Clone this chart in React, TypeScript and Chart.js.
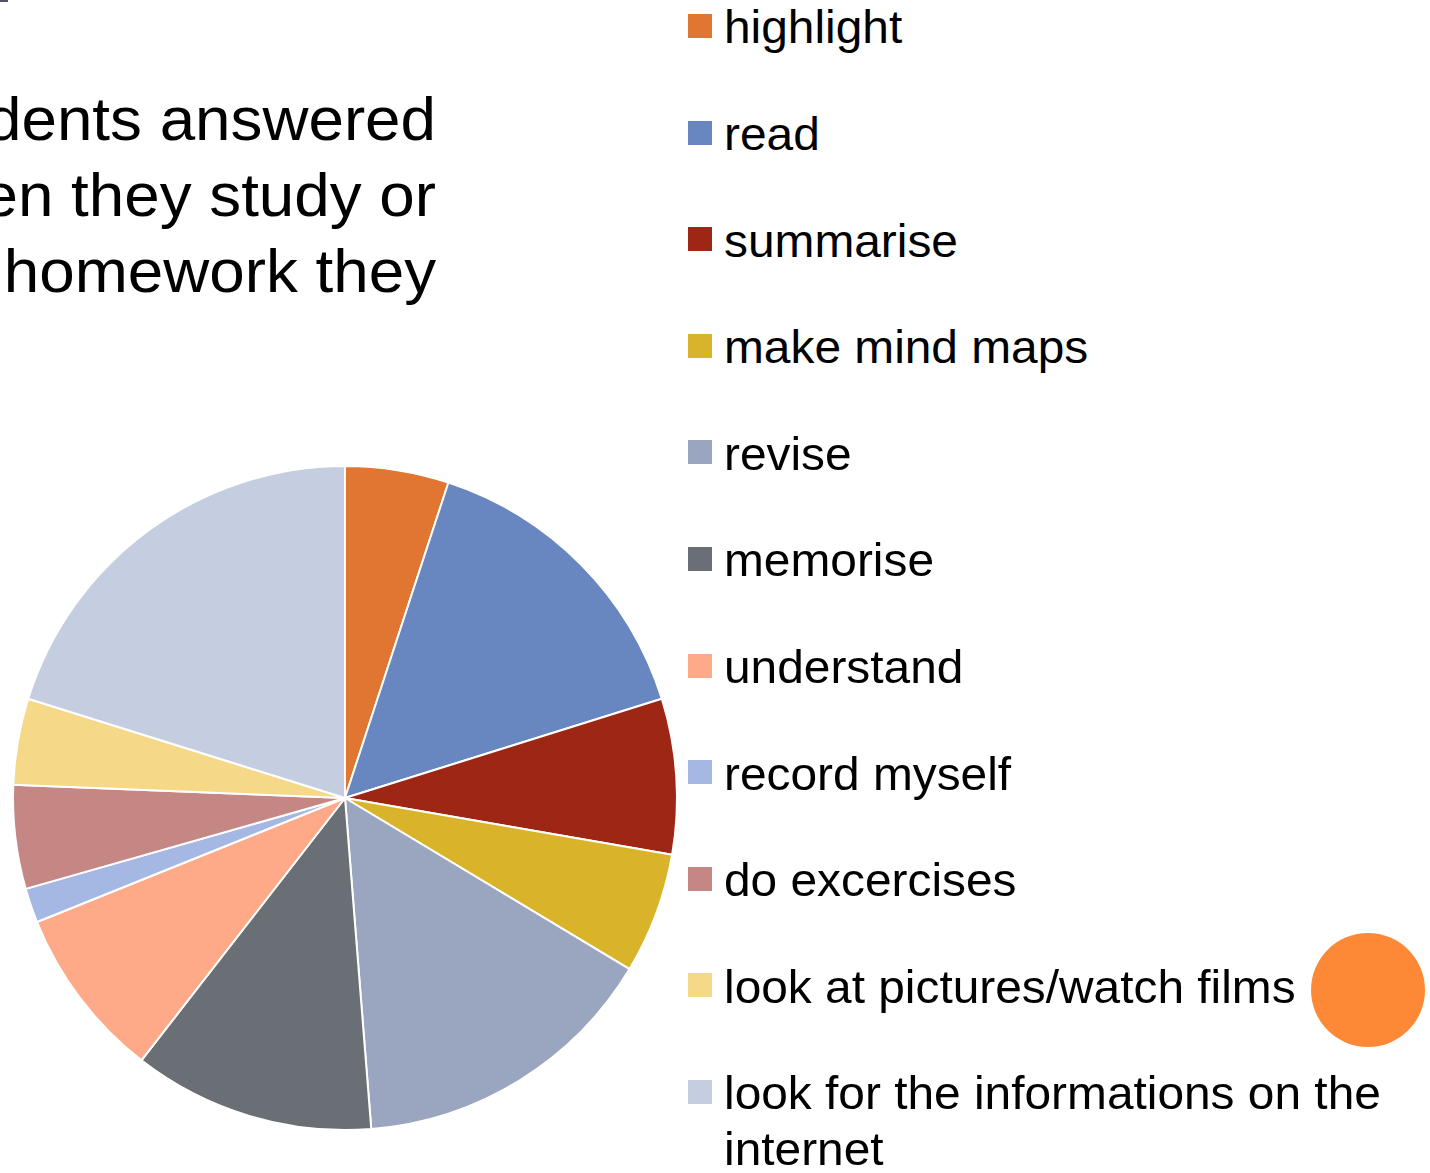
import React, { useEffect, useRef } from "react";
import { Chart, registerables } from "chart.js";

Chart.register(...registerables);

const categories = [
  "highlight",
  "read",
  "summarise",
  "make mind maps",
  "revise",
  "memorise",
  "understand",
  "record myself",
  "do excercises",
  "look at pictures/watch films",
  "look for the informations on the internet",
];
const counts = [6, 18, 9, 7, 18, 14, 10, 2, 6, 5, 24];
const sliceColors = [
  "#E07631",
  "#6887C1",
  "#9E2614",
  "#D9B42A",
  "#9AA5BF",
  "#6A6E75",
  "#FEAA88",
  "#A5B8E4",
  "#C58783",
  "#F5D888",
  "#C5CDE0",
];
const titleLines = ["dents answered", "en they study or", "homework they"];

const FONT = '"Liberation Sans", Arial, Helvetica, sans-serif';

export default function App() {
  const canvasRef = useRef<HTMLCanvasElement | null>(null);

  useEffect(() => {
    if (!canvasRef.current) return;
    const chart = new Chart(canvasRef.current, {
      type: "pie",
      data: {
        labels: categories,
        datasets: [
          {
            data: counts,
            backgroundColor: sliceColors,
            borderColor: "#FFFFFF",
            borderWidth: 2,
          },
        ],
      },
      options: {
        animation: false,
        responsive: false,
        devicePixelRatio: 1,
        radius: 332,
        layout: { padding: 0 },
        plugins: {
          legend: { display: false },
          tooltip: { enabled: false },
          title: { display: false },
        },
      },
    });
    return () => chart.destroy();
  }, []);

  return (
    <div
      style={{
        position: "absolute",
        left: 0,
        top: 0,
        width: 1430,
        height: 1173,
        overflow: "hidden",
        background: "#FFFFFF",
        fontFamily: FONT,
        color: "#000000",
      }}
    >
      <div
        style={{
          position: "absolute",
          left: 0,
          top: 0,
          width: 8,
          height: 2,
          background: "#505468",
        }}
      />
      <div
        style={{
          position: "absolute",
          right: 1430 - 436,
          top: 81,
          textAlign: "right",
          fontSize: 61,
          lineHeight: "76px",
          whiteSpace: "nowrap",
          transform: "scaleX(1.045)",
          transformOrigin: "right top",
        }}
      >
        {titleLines.map((t, i) => (
          <div key={i}>{t}</div>
        ))}
      </div>
      <canvas
        ref={canvasRef}
        width={720}
        height={720}
        style={{ position: "absolute", left: -15, top: 438, width: 720, height: 720 }}
      />
      {categories.map((c, i) => {
        const cy = 26 + 106.6 * i;
        return (
          <React.Fragment key={c}>
            <div
              style={{
                position: "absolute",
                left: 688,
                top: cy - 12,
                width: 24,
                height: 24,
                background: sliceColors[i],
              }}
            />
            <div
              style={{
                position: "absolute",
                left: 724,
                top: cy - 26.6,
                width: 670,
                fontSize: 46,
                lineHeight: "56px",
                transform: "scaleX(1.04)",
                transformOrigin: "left top",
              }}
            >
              {c}
            </div>
          </React.Fragment>
        );
      })}
      <div
        style={{
          position: "absolute",
          left: 1311,
          top: 933,
          width: 114,
          height: 114,
          borderRadius: "50%",
          background: "#FD8936",
        }}
      />
    </div>
  );
}
